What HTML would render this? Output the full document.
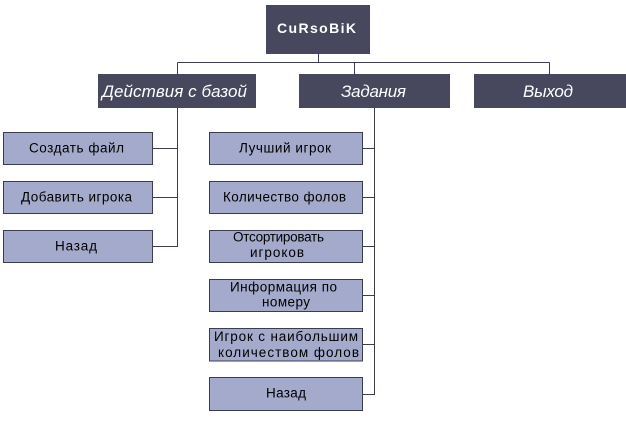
<!DOCTYPE html>
<html>
<head>
<meta charset="utf-8">
<style>
  html, body { margin:0; padding:0; background:#ffffff; }
  svg { display:block; }
  .dark { fill:#47485e; }
  .light { fill:#a3aacb; stroke:#3b3c50; stroke-width:1; }
  .ln { stroke:#3b3c50; stroke-width:1; fill:none; }
  .t3 { font-family:"Liberation Sans", Arial, sans-serif; font-size:13.5px; fill:#000; }
  .t2 { font-family:"Liberation Sans", Arial, sans-serif; font-size:17px; font-style:italic; fill:#ffffff; }
  .t1 { font-family:"Liberation Sans", Arial, sans-serif; font-size:14px; font-weight:bold; fill:#ffffff; }
</style>
</head>
<body>
<svg width="626" height="428" viewBox="0 0 626 428" xmlns="http://www.w3.org/2000/svg" shape-rendering="crispEdges">
  <!-- connectors -->
  <line class="ln" x1="318.5" y1="54" x2="318.5" y2="62.5"/>
  <line class="ln" x1="177.5" y1="62.5" x2="549.5" y2="62.5"/>
  <line class="ln" x1="177.5" y1="62.5" x2="177.5" y2="74"/>
  <line class="ln" x1="354.5" y1="62.5" x2="354.5" y2="74"/>
  <line class="ln" x1="549.5" y1="62.5" x2="549.5" y2="74"/>

  <!-- left branch -->
  <line class="ln" x1="177.5" y1="108" x2="177.5" y2="246.5"/>
  <line class="ln" x1="153" y1="148.5" x2="178" y2="148.5"/>
  <line class="ln" x1="153" y1="197.5" x2="178" y2="197.5"/>
  <line class="ln" x1="153" y1="246.5" x2="178" y2="246.5"/>

  <!-- middle branch -->
  <line class="ln" x1="374.5" y1="108" x2="374.5" y2="394.5"/>
  <line class="ln" x1="363" y1="148.5" x2="375" y2="148.5"/>
  <line class="ln" x1="363" y1="197.5" x2="375" y2="197.5"/>
  <line class="ln" x1="363" y1="246.5" x2="375" y2="246.5"/>
  <line class="ln" x1="363" y1="295.5" x2="375" y2="295.5"/>
  <line class="ln" x1="363" y1="344.5" x2="375" y2="344.5"/>
  <line class="ln" x1="363" y1="394.5" x2="375" y2="394.5"/>

  <!-- top box -->
  <rect class="dark" x="266" y="5" width="104" height="49"/>
  <text class="t1" x="316.5" y="33" text-anchor="middle" textLength="79" lengthAdjust="spacing">CuRsoBiK</text>

  <!-- level 2 -->
  <rect class="dark" x="98" y="74" width="158" height="34"/>
  <text class="t2" x="174.5" y="97" text-anchor="middle" textLength="145" lengthAdjust="spacing">Действия с базой</text>
  <rect class="dark" x="299" y="74" width="151" height="34"/>
  <text class="t2" x="373.5" y="97" text-anchor="middle" textLength="65" lengthAdjust="spacing">Задания</text>
  <rect class="dark" x="474" y="74" width="152" height="34"/>
  <text class="t2" x="548" y="97" text-anchor="middle" textLength="50" lengthAdjust="spacing">Выход</text>

  <!-- left boxes -->
  <rect class="light" x="3.5" y="132.5" width="149" height="32"/>
  <text class="t3" x="76.5" y="152.5" text-anchor="middle" textLength="95" lengthAdjust="spacing">Создать файл</text>
  <rect class="light" x="3.5" y="181.5" width="149" height="32"/>
  <text class="t3" x="76.5" y="201.5" text-anchor="middle" textLength="111" lengthAdjust="spacing">Добавить игрока</text>
  <rect class="light" x="3.5" y="230.5" width="149" height="32"/>
  <text class="t3" x="76" y="250.5" text-anchor="middle" textLength="42" lengthAdjust="spacing">Назад</text>

  <!-- middle boxes -->
  <rect class="light" x="209.5" y="132.5" width="153" height="32"/>
  <text class="t3" x="285" y="152.5" text-anchor="middle" textLength="92" lengthAdjust="spacing">Лучший игрок</text>

  <rect class="light" x="209.5" y="181.5" width="153" height="32"/>
  <text class="t3" x="284.5" y="201.5" text-anchor="middle" textLength="123" lengthAdjust="spacing">Количество фолов</text>

  <rect class="light" x="209.5" y="230.5" width="153" height="32"/>
  <text class="t3" x="278.5" y="241.5" text-anchor="middle" textLength="91" lengthAdjust="spacing">Отсортировать</text>
  <text class="t3" x="277" y="257" text-anchor="middle" textLength="54" lengthAdjust="spacing">игроков</text>

  <rect class="light" x="209.5" y="279.5" width="153" height="32"/>
  <text class="t3" x="283.5" y="291.5" text-anchor="middle" textLength="107" lengthAdjust="spacing">Информация по</text>
  <text class="t3" x="286" y="306.5" text-anchor="middle" textLength="48" lengthAdjust="spacing">номеру</text>

  <rect class="light" x="209.5" y="328.5" width="153" height="32.5"/>
  <text class="t3" x="286" y="341" text-anchor="middle" textLength="144" lengthAdjust="spacing">Игрок с наибольшим</text>
  <text class="t3" x="288.5" y="357" text-anchor="middle" textLength="141" lengthAdjust="spacing">количеством фолов</text>

  <rect class="light" x="209.5" y="377.5" width="153" height="33"/>
  <text class="t3" x="286" y="397.5" text-anchor="middle" textLength="40" lengthAdjust="spacing">Назад</text>
</svg>
</body>
</html>
